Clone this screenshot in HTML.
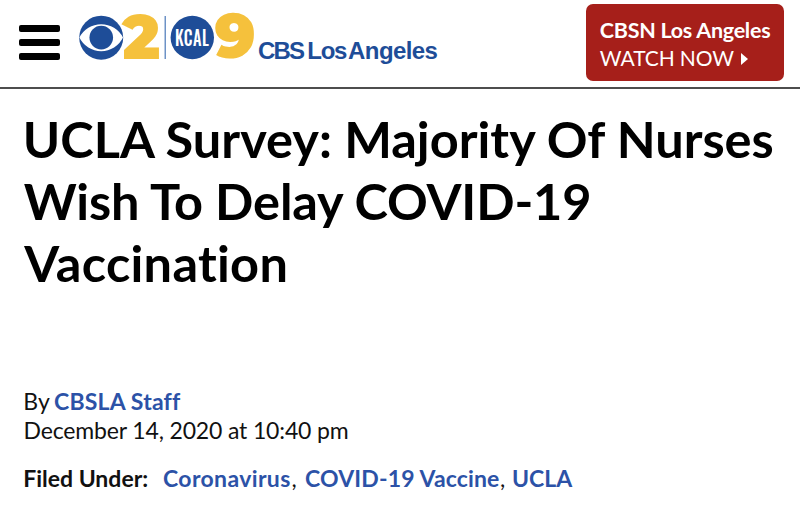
<!DOCTYPE html>
<html lang="en">
<head>
<meta charset="utf-8">
<title>UCLA Survey: Majority Of Nurses Wish To Delay COVID-19 Vaccination</title>
<style>
  html, body { margin: 0; padding: 0; background: #fff; }
  body { width: 800px; height: 505px; overflow: hidden; position: relative;
         font-family: "Lato", "Liberation Sans", sans-serif; color: #111; }
  .bar { position: absolute; left: 19px; width: 41px; height: 7px; background: #000; border-radius: 2px; }
  .logo-svg { position: absolute; left: 0; top: 0; }
  .digit { position: absolute; font-family: "Montserrat", "Liberation Sans", sans-serif; font-weight: 900;
           color: #F5C13C; line-height: 1; white-space: nowrap; }
  .kcal { position: absolute; font-family: "Oswald", "Liberation Sans", sans-serif; font-weight: 500; letter-spacing: 0.6px;
          transform-origin: 0 0; transform: scaleX(0.772); --sx: 0.772; color: #fff; line-height: 1; white-space: nowrap; }
  .brand { position: absolute; top: 39.4px; font-family: "Liberation Sans", "Arial", sans-serif; font-weight: 700;
           font-size: 24px; color: #1E4D98; line-height: 1; white-space: nowrap; }
  .btn { position: absolute; left: 585.8px; top: 4px; width: 198.6px; height: 76.6px; background: #A61F1A; border-radius: 7px; }
  .btn .l1 { position: absolute; left: 14px; top: 16.2px; font-weight: 700; font-size: 21.5px; letter-spacing: -0.27px;
             color: #fff; white-space: nowrap; line-height: 1; }
  .btn .l2 { position: absolute; left: 14px; top: 42.8px; font-weight: 400; font-size: 21px; letter-spacing: -0.12px; color: #fff; white-space: nowrap; line-height: 1; }
  .btn .arr { position: absolute; left: 155.4px; top: 48.6px; width: 0; height: 0; border-top: 6px solid transparent;
              border-bottom: 6px solid transparent; border-left: 7px solid #fff; }
  .rule { position: absolute; left: 0; top: 87px; width: 800px; height: 2px; background: #4d4d4d; }
  h1 { position: absolute; left: 22.8px; top: 108.2px; margin: 0; font-weight: 700; font-size: 50.5px; line-height: 61.7px;
       font-variant-ligatures: none; color: #000; white-space: nowrap; }
  h1 span { display: block; width: max-content; }
  h1 .t2 { letter-spacing: -0.14px; position: relative; left: 0.9px; }
  h1 .t3 { letter-spacing: 0.28px; position: relative; left: 1.5px; }
  .meta { position: absolute; left: 24px; font-size: 23px; line-height: 1; color: #111; white-space: nowrap; }
  .meta b { font-weight: 700; }
  .meta.cm { font-weight: 400; }
  a { color: #2C52A7; text-decoration: none; font-weight: 700; }
</style>
</head>
<body>
  <div class="bar" style="top:25px"></div>
  <div class="bar" style="top:39px"></div>
  <div class="bar" style="top:53px"></div>

  <svg class="logo-svg" width="260" height="80" viewBox="0 0 260 80">
    <circle cx="101.2" cy="37.7" r="22" fill="#1E4D98"/>
    <path d="M79.4 37.6 A24.4 24.4 0 0 1 123 37.6 A24.2 24.2 0 0 1 79.4 37.6 Z" fill="#fff"/>
    <circle cx="101.25" cy="37.6" r="11.8" fill="#1E4D98"/>
    <rect x="164.6" y="16" width="1.2" height="43" fill="#4a78b8"/>
    <circle cx="192.3" cy="37.5" r="21.7" fill="#1E4D98"/>
  </svg>
  <div class="digit fit" style="left:122.2px; top:5.6px; font-size:62.3px; --w:37.89;">2</div>
  <div class="kcal fit" style="left:175px; top:25.6px; font-size:21px; --w:44.30;">KCAL</div>
  <div class="digit fit" style="left:214.6px; top:5.3px; font-size:62.3px; --w:41.19;">9</div>
  <div class="brand fit" style="left:258px; letter-spacing:-1.8px; --w:45.28;">CBS</div>
  <div class="brand fit" style="left:307.2px; letter-spacing:-1.2px; --w:39.08;">Los</div>
  <div class="brand fit" style="left:348.1px; letter-spacing:-0.6px; --w:89.17;">Angeles</div>

  <div class="btn">
    <div class="l1 fit" style="--w:170.52;">CBSN Los Angeles</div>
    <div class="l2 fit" style="--w:134.05;">WATCH NOW</div>
    <div class="arr"></div>
  </div>

  <div class="rule"></div>

  <h1><span class="t1 fit" style="--w:750.97;">UCLA Survey: Majority Of Nurses</span><span class="t2 fit" style="--w:567.73;">Wish To Delay COVID-19</span><span class="t3 fit" style="--w:263.88;">Vaccination</span></h1>

  <div class="meta fit" style="left:23.3px; top:390.4px; --w:157.09;">By <a style="margin-left:-1px; letter-spacing:0.18px">CBSLA Staff</a></div>
  <div class="meta fit" style="left:23.5px; top:419px; letter-spacing:-0.15px; --w:325.03;">December 14, 2020 at 10:40 pm</div>
  <div class="meta fit" style="left:23.2px; top:466.8px; --w:124.98;"><b>Filed Under:</b></div>
  <div class="meta fit" style="top:466.8px; left:163px; --w:127.62;"><a style="letter-spacing:0.36px">Coronavirus</a></div>
  <div class="meta cm" style="top:466.8px; left:291.6px;">,</div>
  <div class="meta fit" style="top:466.8px; left:305px; --w:194.53;"><a style="letter-spacing:0.15px">COVID-19 Vaccine</a></div>
  <div class="meta cm" style="top:466.8px; left:499.9px;">,</div>
  <div class="meta fit" style="top:466.8px; left:512px; --w:60.22;"><a>UCLA</a></div>

<script>
(function(){
  function fit(){
    var els=document.querySelectorAll('.fit');
    for(var i=0;i<els.length;i++){
      var el=els[i], cs=getComputedStyle(el);
      var w=parseFloat(cs.getPropertyValue('--w'));
      if(!w) continue;
      var sx=parseFloat(cs.getPropertyValue('--sx'))||1;
      var actual=el.getBoundingClientRect().width/sx;
      if(!actual) continue;
      var r=w/actual;
      if(Math.abs(r-1)>0.02){
        el.style.transformOrigin='0 0';
        el.style.transform='scaleX('+(sx*r)+')';
      }
    }
  }
  fit();
})();
</script>
</body>
</html>
